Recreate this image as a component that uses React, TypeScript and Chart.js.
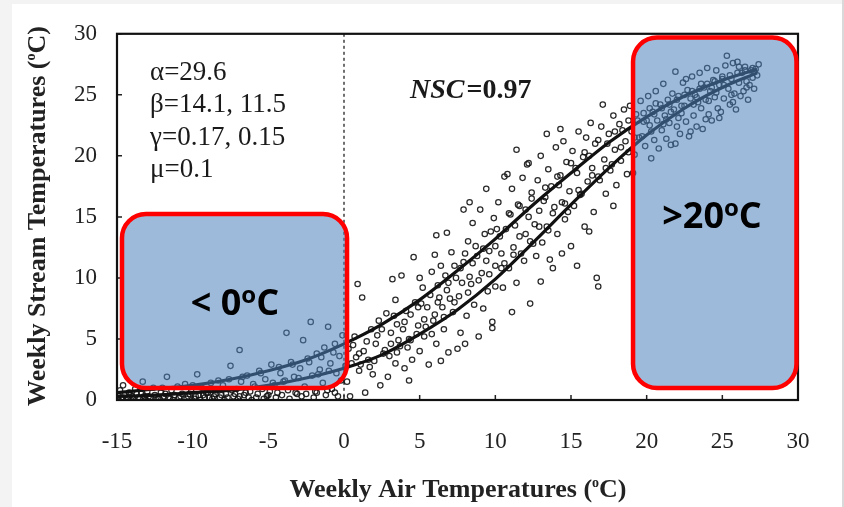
import React, { useEffect, useRef } from "react";
import { Chart, registerables } from "chart.js";

Chart.register(...registerables);

// ---- axis ticks ----
const xTickValues = [-15, -10, -5, 0, 5, 10, 15, 20, 25, 30];
const yTickValues = [0, 5, 10, 15, 20, 25, 30];

// ---- fitted curves ----
const curveAir = [-15, -12.5, -10, -7.5, -5, -2.5, 0, 2.5, 5, 7.5, 10, 12.5, 15, 17.5, 20, 22.5, 25, 27.3];
const upperCurve = [0.6, 0.9, 1.2, 1.7, 2.4, 3.3, 4.6, 6.2, 8.2, 10.6, 13.2, 16.0, 18.6, 21.1, 23.2, 24.9, 26.2, 27.1];
const lowerCurve = [0.3, 0.4, 0.6, 0.8, 1.2, 1.8, 2.6, 3.7, 5.4, 7.4, 9.9, 12.9, 16.0, 19.0, 21.7, 23.9, 25.6, 26.8];

// ---- observations: [air, stream] ----
const coldPoints: [number, number][] = [
  [-14.9, 0.3], [-14.8, 0.8], [-14.7, 0.1], [-14.6, 1.2], [-14.5, 0.4], [-14.3, 0.2], [-14.2, 0.6], [-14.0, 0.3],
  [-13.8, 0.9], [-13.7, 0.5], [-13.5, 0.1], [-13.3, 1.5], [-13.2, 0.3], [-13.0, 0.7], [-12.8, 0.2], [-12.6, 1.0],
  [-12.5, 0.4], [-12.3, 0.1], [-12.1, 0.6], [-11.9, 0.3], [-11.7, 1.9], [-11.6, 0.2], [-11.4, 0.8], [-11.2, 0.4],
  [-11.0, 1.1], [-10.9, 0.2], [-10.7, 0.5], [-10.5, 1.3], [-10.3, 0.3], [-10.1, 0.7], [-9.9, 0.1], [-9.7, 2.1],
  [-9.6, 0.4], [-9.4, 1.0], [-9.2, 0.2], [-9.0, 0.6], [-8.8, 1.4], [-8.6, 0.3], [-8.4, 0.8], [-8.2, 0.2],
  [-8.0, 1.2], [-7.8, 0.5], [-7.6, 1.7], [-7.5, 2.8], [-7.3, 0.3], [-7.1, 0.9], [-6.9, 4.1], [-6.8, 1.5],
  [-6.6, 0.4], [-6.4, 2.0], [-6.2, 0.7], [-6.0, 1.3], [-5.8, 0.2], [-5.6, 2.4], [-5.4, 0.9], [-5.2, 1.7],
  [-5.0, 0.4], [-4.8, 2.9], [-4.6, 1.2], [-4.4, 0.6], [-4.2, 2.2], [-4.0, 1.5], [-3.8, 5.5], [-3.7, 0.8],
  [-3.5, 3.1], [-3.3, 1.9], [-3.1, 0.5], [-2.9, 2.6], [-2.7, 4.9], [-2.6, 1.1], [-2.4, 3.4], [-2.2, 6.4],
  [-2.1, 2.0], [-1.9, 0.7], [-1.8, 3.8], [-1.6, 2.5], [-1.4, 1.4], [-1.3, 4.3], [-1.05, 6.0], [-0.9, 3.0],
  [-0.8, 0.9], [-0.6, 4.6], [-0.5, 2.2], [-0.3, 3.6], [-0.2, 1.6], [-0.1, 5.3],
  [-14.4, 0.0], [-13.9, 0.1], [-13.1, 0.0], [-12.2, 0.1], [-11.3, 0.0], [-10.4, 0.1], [-9.5, 0.0], [-8.7, 0.1],
  [-7.9, 0.0], [-7.0, 0.1], [-6.1, 0.0], [-5.3, 0.1], [-4.5, 0.2], [-3.6, 0.1], [-2.8, 0.3], [-2.0, 0.2],
  [-1.2, 0.4], [-0.4, 0.3],
  [-12.0, 1.0], [-10.0, 1.2], [-8.3, 1.6], [-6.7, 1.9], [-5.5, 2.2], [-4.3, 2.7], [-3.4, 2.9], [-2.3, 3.1],
  [-1.5, 3.5], [-0.7, 3.9], [-9.1, 0.6], [-7.4, 0.8], [-5.9, 1.1], [-4.7, 1.4], [-3.9, 1.6], [-3.0, 1.8],
  [-1.7, 2.1], [-1.0, 2.4],
  [-14.9, 0.0], [-14.6, 0.2], [-14.1, 0.4], [-13.6, 0.2], [-13.4, 0.5], [-12.9, 0.3], [-12.4, 0.2], [-11.8, 0.5],
  [-11.5, 0.1], [-10.8, 0.3], [-10.2, 0.5], [-9.8, 0.3], [-9.3, 0.4], [-8.9, 0.2], [-8.5, 0.5], [-8.1, 0.4],
  [-7.7, 0.2], [-7.2, 0.5], [-6.9, 0.3], [-6.5, 0.6], [-6.3, 0.2], [-5.7, 0.5], [-5.1, 0.3], [-4.9, 0.7],
  [-4.1, 0.4], [-3.2, 0.6], [-2.5, 0.5], [-1.8, 0.6], [-1.1, 0.8], [-0.6, 0.6],
];

const risingPoints: [number, number][] = [
  [0.2, 1.5], [0.4, 0.3], [0.5, 3.0], [0.7, 5.2], [0.9, 9.5], [1.0, 2.4], [1.2, 8.4], [1.3, 4.0],
  [1.4, 0.6], [1.6, 3.3], [1.8, 5.8], [1.9, 2.1], [2.1, 4.6], [2.3, 6.5], [2.4, 1.2], [2.6, 3.8],
  [2.8, 7.1], [2.9, 1.9], [3.1, 5.5], [3.2, 9.9], [3.4, 3.0], [3.5, 6.2], [3.7, 4.4], [3.8, 10.2],
  [4.0, 2.6], [4.1, 7.3], [4.3, 5.0], [4.5, 3.3], [4.6, 11.7], [4.7, 8.0], [4.9, 6.1], [5.0, 4.0],
  [5.2, 9.2], [5.3, 5.2], [5.5, 7.6], [5.6, 2.9], [5.8, 10.5], [5.9, 6.5], [6.1, 13.5], [6.1, 4.6],
  [6.3, 8.4], [6.4, 11.0], [6.6, 5.8], [6.8, 9.0], [6.9, 3.9], [7.1, 12.1], [7.2, 7.2], [7.4, 10.0],
  [7.5, 4.2], [7.6, 8.5], [7.7, 5.5], [7.9, 15.6], [7.9, 11.3], [8.1, 6.9], [8.2, 13.0], [8.4, 9.5],
  [8.5, 14.5], [8.6, 7.8], [8.8, 11.8], [8.9, 5.2], [9.0, 15.6], [9.1, 10.4], [9.2, 7.5], [9.3, 13.6],
  [9.5, 8.9], [9.6, 12.2], [9.8, 6.4], [9.9, 14.9], [10.0, 11.0], [10.0, 9.3],
  [0.3, 4.2], [0.8, 3.5], [1.1, 2.9], [1.5, 4.8], [2.0, 3.2], [2.2, 5.3], [2.7, 4.1], [3.0, 3.6],
  [3.3, 6.9], [3.6, 4.9], [3.9, 5.8], [4.2, 4.3], [4.4, 7.0], [4.8, 5.4], [5.1, 7.9], [5.4, 6.0],
  [5.7, 8.6], [6.0, 7.0], [6.2, 9.4], [6.5, 7.6], [6.7, 10.2], [7.0, 8.3], [7.3, 11.0], [7.8, 9.6],
  [8.0, 12.0], [8.3, 10.1], [8.7, 12.6], [9.4, 11.4], [9.7, 13.8], [10.0, 12.6],
  [10.2, 16.2], [10.4, 12.0], [10.5, 9.2], [10.6, 18.3], [10.7, 14.0], [10.8, 18.5], [10.9, 10.8], [11.0, 15.2],
  [11.1, 17.3], [11.2, 12.5], [11.4, 9.6], [11.5, 16.0], [11.6, 13.4], [11.8, 18.2], [11.9, 11.4], [12.0, 15.6],
  [12.1, 19.3], [12.2, 19.4], [12.3, 7.9], [12.3, 13.0], [12.4, 17.0], [12.6, 14.4], [12.7, 11.8], [12.8, 18.0],
  [12.9, 15.5], [13.0, 20.0], [13.1, 12.9], [13.3, 16.6], [13.4, 14.2], [13.5, 18.9], [13.6, 11.5], [13.7, 17.5],
  [13.8, 10.8], [13.9, 15.8], [14.0, 20.7], [14.1, 13.6], [14.3, 22.2], [14.3, 18.4], [14.4, 16.2], [14.5, 21.2],
  [14.6, 14.8], [14.7, 19.5], [14.9, 17.1], [15.0, 12.6], [15.1, 20.4], [15.2, 15.9], [15.4, 11.0], [15.4, 18.6],
  [15.5, 22.0], [15.6, 16.8], [15.8, 19.9], [15.9, 14.2], [16.0, 21.5], [16.1, 17.9], [16.3, 22.7], [16.4, 19.0],
  [16.5, 15.4], [16.6, 21.0], [16.7, 10.0], [16.8, 9.3], [16.8, 18.3], [17.0, 22.4], [17.1, 24.2], [17.2, 19.7],
  [17.3, 16.9], [17.5, 21.8], [17.6, 18.8], [17.8, 23.3], [17.9, 20.5], [18.0, 17.6], [18.2, 22.6], [18.3, 19.6],
  [18.5, 23.8], [18.6, 21.2], [18.7, 18.5], [18.9, 24.1], [19.0, 22.0], [19.2, 20.1], [19.3, 23.4], [19.5, 21.5],
  [19.6, 24.5], [19.8, 22.8], [19.9, 20.8],
  [10.3, 13.4], [10.6, 11.2], [11.3, 14.3], [11.7, 12.0], [12.2, 15.0], [12.5, 12.8], [13.2, 16.3], [13.5, 13.9],
  [14.2, 17.6], [14.8, 15.4], [15.3, 19.0], [15.7, 16.9], [16.2, 20.0], [16.9, 18.0], [17.4, 21.0], [17.7, 19.3],
  [18.4, 22.1], [18.8, 20.3], [19.4, 22.9], [19.7, 21.6],
  [0.1, 2.8], [0.6, 4.5], [1.0, 3.8], [1.7, 2.7], [2.5, 5.8], [3.1, 4.6], [3.5, 3.9], [4.0, 6.4],
  [4.4, 4.9], [4.9, 7.6], [5.3, 6.6], [5.8, 5.4], [6.2, 8.0], [6.6, 6.8], [6.9, 9.6], [7.3, 8.0],
  [7.7, 10.8], [8.2, 8.8], [8.5, 11.2], [8.9, 9.8], [9.2, 12.4], [9.6, 10.3], [10.1, 14.0], [10.4, 10.8],
  [10.9, 15.3], [11.2, 11.9], [11.6, 15.9], [12.0, 13.6], [12.4, 16.5], [12.9, 14.2], [13.3, 17.4], [13.8, 15.3],
  [14.1, 18.3], [14.6, 16.1], [15.0, 19.4], [15.5, 17.2], [15.9, 20.3], [16.4, 18.4], [16.8, 21.3], [17.3, 19.0],
  [17.9, 22.0], [18.3, 20.7], [18.8, 22.9], [19.2, 21.5], [19.8, 23.5],
  [3.4, 8.2], [5.0, 10.0], [6.0, 11.9], [6.8, 13.7], [8.3, 16.2], [9.4, 17.3], [11.4, 20.5], [13.4, 21.8],
  [4.3, 1.6], [6.4, 3.2], [8.0, 4.6], [9.8, 5.9], [11.1, 7.2], [13.0, 9.7], [14.4, 12.0], [16.2, 13.8],
  [17.8, 15.9], [19.1, 18.6],
];

const warmPoints: [number, number][] = [
  [20.1, 24.9], [20.2, 22.5], [20.3, 19.8], [20.4, 23.6], [20.5, 21.3], [20.6, 25.3], [20.7, 22.9], [20.8, 20.6],
  [20.9, 24.2], [21.0, 22.1], [21.1, 25.9], [21.2, 23.3], [21.3, 21.4], [21.4, 24.6], [21.5, 22.7], [21.6, 20.9],
  [21.7, 25.1], [21.8, 23.8], [21.9, 26.9], [22.0, 22.4], [22.1, 24.9], [22.2, 21.8], [22.3, 23.5], [22.4, 26.0],
  [22.5, 24.1], [22.6, 22.8], [22.7, 25.4], [22.8, 21.6], [22.9, 24.7], [23.0, 26.5], [23.1, 23.3], [23.2, 25.0],
  [23.3, 22.4], [23.4, 24.4], [23.5, 26.8], [23.6, 23.9], [23.7, 22.2], [23.8, 25.6], [23.9, 24.6], [24.0, 27.2],
  [24.1, 23.4], [24.2, 25.3], [24.3, 22.9], [24.4, 26.2], [24.5, 24.8], [24.6, 27.0], [24.7, 23.9], [24.8, 25.8],
  [24.9, 23.6], [25.0, 26.5], [25.1, 24.7], [25.2, 27.4], [25.3, 28.2], [25.4, 25.5], [25.5, 24.2], [25.6, 26.3],
  [25.7, 27.6], [25.8, 25.1], [25.9, 23.8], [26.0, 27.7], [26.1, 26.0], [26.2, 24.9], [26.3, 26.8], [26.4, 25.3],
  [26.5, 27.3], [26.6, 26.1], [26.7, 24.6], [26.8, 25.8], [26.9, 27.0], [27.0, 26.4], [27.1, 25.5], [27.2, 27.1],
  [27.4, 27.5], [27.3, 26.6],
  [20.0, 22.9], [20.5, 23.4], [21.0, 23.9], [21.5, 24.2], [22.0, 24.6], [22.5, 25.0], [23.0, 25.3], [23.5, 25.5],
  [24.0, 25.9], [24.5, 26.1], [25.0, 26.3], [25.5, 26.6], [26.0, 26.8], [26.5, 27.0], [27.0, 27.2], [20.3, 22.0],
  [21.3, 23.0], [22.3, 24.1], [23.3, 24.8], [24.3, 25.6],
  [20.2, 23.9], [20.6, 24.3], [21.1, 22.6], [21.6, 23.6], [22.1, 23.1], [22.6, 26.3], [23.1, 24.2], [23.6, 25.9],
  [24.1, 24.5], [24.6, 25.2], [25.1, 25.8], [25.6, 25.0], [26.1, 27.3], [26.6, 25.6], [27.1, 26.9], [21.9, 21.0],
  [22.9, 22.0], [23.9, 23.0], [24.8, 23.1], [25.7, 24.4],
];

// ---- annotation text ----
const paramLines = ["α=29.6", "β=14.1, 11.5", "γ=0.17, 0.15", "μ=0.1"];
const nscValue = "=0.97";
const xTitle = ["Weekly Air Temperatures (", "C)"];
const yTitle = ["Weekly Stream Temperatures (", "C)"];
const coldLabel = ["< 0", "C"];
const warmLabel = [">20", "C"];

const SERIF = '"Liberation Serif", "Times New Roman", serif';
const SANS = '"Open Sans", "Liberation Sans", sans-serif';

function supText(
  ctx: CanvasRenderingContext2D,
  before: string,
  after: string,
  cx: number,
  baseline: number,
  font: string,
  supFont: string,
  raise: number
) {
  ctx.font = font;
  const w1 = ctx.measureText(before).width;
  const w3 = ctx.measureText(after).width;
  ctx.font = supFont;
  const w2 = ctx.measureText("o").width;
  let x = cx - (w1 + w2 + w3) / 2;
  ctx.textAlign = "left";
  ctx.textBaseline = "alphabetic";
  ctx.font = font;
  ctx.fillText(before, x, baseline);
  x += w1;
  ctx.font = supFont;
  ctx.fillText("o", x, baseline - raise);
  x += w2;
  ctx.font = font;
  ctx.fillText(after, x, baseline);
}

function roundRect(ctx: CanvasRenderingContext2D, x0: number, y0: number, x1: number, y1: number, r: number) {
  ctx.beginPath();
  ctx.moveTo(x0 + r, y0);
  ctx.lineTo(x1 - r, y0);
  ctx.arcTo(x1, y0, x1, y0 + r, r);
  ctx.lineTo(x1, y1 - r);
  ctx.arcTo(x1, y1, x1 - r, y1, r);
  ctx.lineTo(x0 + r, y1);
  ctx.arcTo(x0, y1, x0, y1 - r, r);
  ctx.lineTo(x0, y0 + r);
  ctx.arcTo(x0, y0, x0 + r, y0, r);
  ctx.closePath();
}

const overlayPlugin = {
  id: "overlay",
  beforeDraw(chart: any) {
    const { ctx, width, height } = chart;
    ctx.save();
    ctx.fillStyle = "#ffffff";
    ctx.fillRect(0, 0, width, height);
    ctx.fillStyle = "#f3f3f3";
    ctx.fillRect(0, 0, 12, height);
    ctx.fillRect(0, 0, width, 4);
    ctx.fillStyle = "#d9d9d9";
    ctx.fillRect(842, 0, 2, height);
    ctx.restore();
  },
  beforeDatasetsDraw(chart: any) {
    const { ctx, chartArea: a } = chart;
    const xs = chart.scales.x;
    const ys = chart.scales.y;
    ctx.save();
    const x0 = xs.getPixelForValue(0);
    ctx.setLineDash([3, 3]);
    ctx.lineWidth = 1.3;
    ctx.strokeStyle = "#222";
    ctx.beginPath();
    ctx.moveTo(x0, a.top);
    ctx.lineTo(x0, a.bottom);
    ctx.stroke();
    ctx.setLineDash([]);
    ctx.lineWidth = 1.5;
    ctx.beginPath();
    xs.ticks.forEach((t: any) => {
      const px = xs.getPixelForValue(t.value);
      ctx.moveTo(px, a.bottom);
      ctx.lineTo(px, a.bottom - 5);
    });
    ys.ticks.forEach((t: any) => {
      const py = ys.getPixelForValue(t.value);
      ctx.moveTo(a.left, py);
      ctx.lineTo(a.left + 5, py);
    });
    ctx.stroke();
    ctx.lineWidth = 2.2;
    ctx.strokeStyle = "#111";
    ctx.strokeRect(a.left, a.top, a.right - a.left, a.bottom - a.top);
    ctx.restore();
  },
  afterDatasetsDraw(chart: any) {
    const { ctx } = chart;
    const xs = chart.scales.x;
    const ys = chart.scales.y;
    ctx.save();
    const boxes = [
      { x0: -14.67, x1: 0.2, y0: 0.98, y1: 15.24 },
      { x0: 19.1, x1: 29.9, y0: 0.98, y1: 29.7 },
    ];
    boxes.forEach((b) => {
      const px0 = xs.getPixelForValue(b.x0);
      const px1 = xs.getPixelForValue(b.x1);
      const py0 = ys.getPixelForValue(b.y1);
      const py1 = ys.getPixelForValue(b.y0);
      roundRect(ctx, px0, py0, px1, py1, 24);
      ctx.fillStyle = "rgba(79,129,189,0.55)";
      ctx.fill();
      ctx.lineWidth = 4.5;
      ctx.strokeStyle = "#ff0000";
      ctx.stroke();
    });
    ctx.fillStyle = "#000";
    const bigFont = `bold 36px ${SANS}`;
    const supBig = `bold 24px ${SANS}`;
    supText(ctx, coldLabel[0], coldLabel[1], 235, 315, bigFont, supBig, 12);
    supText(ctx, warmLabel[0], warmLabel[1], 712, 228, bigFont, supBig, 12);

    // parameters
    ctx.fillStyle = "#1a1a1a";
    ctx.textAlign = "left";
    ctx.textBaseline = "alphabetic";
    ctx.font = `27px ${SERIF}`;
    const baselines = [80, 112, 145, 177];
    paramLines.forEach((s, i) => ctx.fillText(s, 150, baselines[i]));
    ctx.font = `italic bold 28px ${SERIF}`;
    ctx.fillText("NSC", 410, 98);
    const wn = ctx.measureText("NSC").width;
    ctx.font = `bold 28px ${SERIF}`;
    ctx.fillText(nscValue, 410 + wn + 2, 98);

    // axis titles
    ctx.fillStyle = "#222";
    supText(ctx, xTitle[0], xTitle[1], 458, 497, `bold 26px ${SERIF}`, `bold 14px ${SERIF}`, 10);
    ctx.translate(45, 216);
    ctx.rotate(-Math.PI / 2);
    supText(ctx, yTitle[0], yTitle[1], 0, 0, `bold 26px ${SERIF}`, `bold 14px ${SERIF}`, 10);
    ctx.restore();
  },
};

const toXY = (pts: [number, number][]) => pts.map(([x, y]) => ({ x, y }));

export default function App() {
  const ref = useRef<HTMLCanvasElement | null>(null);
  useEffect(() => {
    if (!ref.current) return;
    const chart = new Chart(ref.current, {
      type: "scatter",
      data: {
        datasets: [
          {
            label: "upper",
            data: curveAir.map((x, i) => ({ x, y: upperCurve[i] })),
            showLine: true,
            borderColor: "#111",
            borderWidth: 3.2,
            pointRadius: 0,
            cubicInterpolationMode: "monotone",
          },
          {
            label: "lower",
            data: curveAir.map((x, i) => ({ x, y: lowerCurve[i] })),
            showLine: true,
            borderColor: "#111",
            borderWidth: 3.2,
            pointRadius: 0,
            cubicInterpolationMode: "monotone",
          },
          {
            label: "observed",
            data: [...toXY(coldPoints), ...toXY(risingPoints), ...toXY(warmPoints)],
            pointRadius: 2.7,
            pointBorderWidth: 1.25,
            borderColor: "rgba(20,20,20,0.9)",
            backgroundColor: "rgba(255,255,255,0)",
          },
        ],
      } as any,
      options: {
        animation: false,
        responsive: false,
        devicePixelRatio: 1,
        layout: { padding: { left: 0, right: 46, top: 32, bottom: 0 } },
        plugins: { legend: { display: false }, tooltip: { enabled: false } },
        scales: {
          x: {
            type: "linear",
            min: -15,
            max: 30,
            afterBuildTicks: (s: any) => {
              s.ticks = xTickValues.map((v) => ({ value: v }));
            },
            afterFit: (s: any) => {
              s.height = 107;
            },
            grid: { display: false, drawTicks: false },
            border: { display: false },
            ticks: {
              color: "#222",
              padding: 28,
              maxRotation: 0,
              font: { family: SERIF, size: 23 },
            },
          },
          y: {
            type: "linear",
            min: 0,
            max: 30,
            afterBuildTicks: (s: any) => {
              s.ticks = yTickValues.map((v) => ({ value: v }));
            },
            afterFit: (s: any) => {
              s.width = 117;
            },
            grid: { display: false, drawTicks: false },
            border: { display: false },
            ticks: {
              color: "#222",
              padding: 20,
              font: { family: SERIF, size: 23 },
            },
          },
        },
      },
      plugins: [overlayPlugin],
    });
    return () => chart.destroy();
  }, []);
  return (
    <div style={{ position: "fixed", left: 0, top: 0, width: 844, height: 507, background: "#fff" }}>
      <canvas ref={ref} width={844} height={507} style={{ width: 844, height: 507, display: "block" }} />
    </div>
  );
}
